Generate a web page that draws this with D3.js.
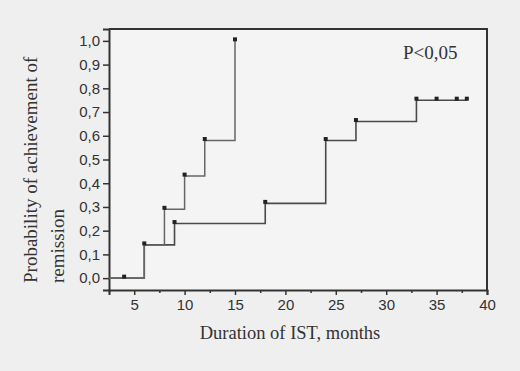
<!DOCTYPE html>
<html>
<head>
<meta charset="utf-8">
<script src="https://cdn.jsdelivr.net/npm/d3@7"></script>
<style>
  html, body { margin: 0; padding: 0; background: #efefef; }
  #chart { width: 520px; height: 371px; }
</style>
</head>
<body>
<div id="chart"></div>
<script>
// Group A: fast responders
const monthsA = [4, 6, 8, 10, 12, 15];
const probA = [0.0, 0.14, 0.29, 0.43, 0.58, 1.0];
// Group B: slower responders (shares the first step at 6 months)
const monthsB = [6, 9, 18, 24, 27, 33, 35, 37, 38];
const probB = [0.14, 0.23, 0.315, 0.58, 0.66, 0.75, 0.75, 0.75, 0.75];

const xTicks = [5, 10, 15, 20, 25, 30, 35, 40];
const xMinorTicks = [2.5, 7.5, 12.5, 17.5, 22.5, 27.5, 32.5, 37.5];
const yTicks = [0, 0.1, 0.2, 0.3, 0.4, 0.5, 0.6, 0.7, 0.8, 0.9, 1.0];

const width = 520, height = 371;
const margin = { top: 29, right: 33, bottom: 81, left: 109 };

const svg = d3.select('#chart')
    .append('svg')
    .attr('width', width)
    .attr('height', height);

const x = d3.scaleLinear().domain([2.5, 40]).range([margin.left, width - margin.right]);
const y = d3.scaleLinear().domain([-0.05, 1.05]).range([height - margin.bottom, margin.top]);

const fmt = d => d3.format('.1f')(d).replace('.', ',');

// plot background
svg.append('rect')
    .attr('x', x(2.5)).attr('y', y(1.05))
    .attr('width', x(40) - x(2.5)).attr('height', y(-0.05) - y(1.05))
    .attr('fill', '#f4f4f4');

// axes
svg.append('g')
    .attr('transform', `translate(0,${y(-0.05)})`)
    .call(d3.axisBottom(x).tickValues(xTicks).tickSize(5).tickPadding(4).tickFormat(d3.format('d')));

svg.append('g')
    .attr('transform', `translate(0,${y(-0.05)})`)
    .call(d3.axisBottom(x).tickValues(xMinorTicks).tickSize(3).tickFormat(''))
    .call(g => g.select('.domain').remove());

svg.append('g')
    .attr('transform', `translate(${x(2.5)},0)`)
    .call(d3.axisLeft(y).tickValues(yTicks).tickSize(6).tickPadding(3).tickFormat(fmt));

svg.selectAll('.tick line').attr('stroke', '#333').attr('stroke-width', 1.5);
svg.selectAll('.domain').attr('stroke', '#333').attr('stroke-width', 2);
svg.selectAll('.tick text')
    .attr('fill', '#333')
    .attr('font-family', 'Liberation Sans, Arial, sans-serif')
    .attr('font-size', '15px');

// top and right frame
svg.append('path')
    .attr('d', `M${x(2.5)},${y(1.05)}H${x(40)}V${y(-0.05)}`)
    .attr('fill', 'none')
    .attr('stroke', '#333')
    .attr('stroke-width', 2);

// step curves
const line = d3.line()
    .x(d => x(d[0]))
    .y(d => y(d[1]))
    .curve(d3.curveStepAfter);

const ptsA = [[2.5, 0]].concat(monthsA.map((m, i) => [m, probA[i]]));
const ptsB = [[2.5, 0]].concat(monthsB.map((m, i) => [m, probB[i]]));

svg.append('path')
    .datum(ptsB)
    .attr('d', line)
    .attr('fill', 'none')
    .attr('stroke', '#4a4a4a')
    .attr('stroke-width', 1.6);

svg.append('path')
    .datum(ptsA)
    .attr('d', line)
    .attr('fill', 'none')
    .attr('stroke', '#666')
    .attr('stroke-width', 1.5);

// markers (sit slightly above the step)
const markers = monthsA.map((m, i) => [m, probA[i]])
    .concat(monthsB.slice(1).map((m, i) => [m, probB[i + 1]]));

svg.append('g')
    .selectAll('rect')
    .data(markers)
    .join('rect')
    .attr('x', d => x(d[0]) - 2)
    .attr('y', d => y(d[1]) - 3.5)
    .attr('width', 4)
    .attr('height', 4)
    .attr('fill', '#222');

// labels
svg.append('text')
    .attr('x', 290)
    .attr('y', 339)
    .attr('text-anchor', 'middle')
    .attr('font-family', 'Liberation Serif, Times New Roman, serif')
    .attr('font-size', '18.5px')
    .attr('fill', '#333')
    .text('Duration of IST, months');

const yTitle = svg.append('text')
    .attr('transform', 'translate(0,283) rotate(-90)')
    .attr('font-family', 'Liberation Serif, Times New Roman, serif')
    .attr('font-size', '19px')
    .attr('fill', '#333');
yTitle.append('tspan').attr('x', 0).attr('y', 37).text('Probability of achievement of');
yTitle.append('tspan').attr('x', 0).attr('y', 64).text('remission');

svg.append('text')
    .attr('x', 403)
    .attr('y', 59)
    .attr('font-family', 'Liberation Serif, Times New Roman, serif')
    .attr('font-size', '19px')
    .attr('fill', '#333')
    .text('P<0,05');
</script>
</body>
</html>
